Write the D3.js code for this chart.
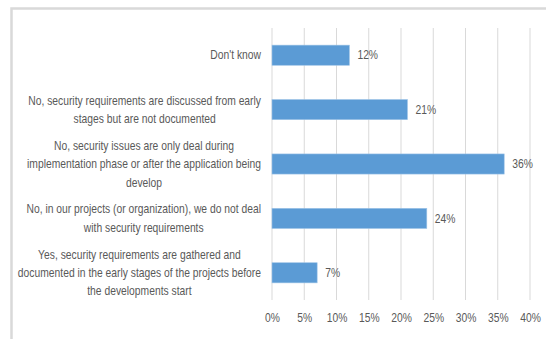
<!DOCTYPE html>
<html>
<head>
<meta charset="utf-8">
<script src="https://cdn.jsdelivr.net/npm/d3@7"></script>
<style>
  body { margin: 0; background: #fff; }
  text { font-family: "Liberation Sans", Arial, sans-serif; fill: #595959; font-size: 12px; }
</style>
</head>
<body>
<div id="chart"></div>
<script>
// chart data
const categories = [
  ["Don't know"],
  ["No, security requirements are discussed from early", "stages but are not documented"],
  ["No, security issues are only deal during", "implementation phase or after the application being", "develop"],
  ["No, in our projects (or organization), we do not deal", "with security requirements"],
  ["Yes, security requirements are gathered and", "documented in the early stages of the projects before", "the developments start"]
];
const values = [12, 21, 36, 24, 7];
const xTicks = [0, 5, 10, 15, 20, 25, 30, 35, 40];

const W = 546, H = 339;
const plot = {left: 272, right: 530, top: 28, bottom: 300};
const squeeze = 0.86; // horizontal condensing to mimic a narrow font

const svg = d3.select("#chart").append("svg")
  .attr("width", W)
  .attr("height", H);

// outer frame (only left and top edges visible)
svg.append("rect")
  .attr("x", 11.5).attr("y", 8.5)
  .attr("width", 560).attr("height", 360)
  .attr("fill", "none")
  .attr("stroke", "#d9d9d9")
  .attr("stroke-width", 2.5);

const xScale = d3.scaleLinear()
  .domain([0, 40])
  .range([plot.left, plot.right]);

const yScale = d3.scaleBand()
  .domain(d3.range(categories.length))
  .range([plot.top, plot.bottom])
  .paddingInner(0.63)
  .paddingOuter(0.315);

// vertical grid
svg.append("g")
  .selectAll("line")
  .data(xTicks)
  .join("line")
    .attr("x1", d => xScale(d)).attr("x2", d => xScale(d))
    .attr("y1", plot.top).attr("y2", plot.bottom)
    .attr("stroke", "#d9d9d9")
    .attr("stroke-width", 1);

// x axis labels
svg.append("g")
  .attr("transform", `translate(0, ${plot.bottom})`)
  .call(d3.axisBottom(xScale).tickValues(xTicks).tickSize(0).tickPadding(18).tickFormat(d => d + "%"))
  .call(g => g.select(".domain").remove())
  .call(g => g.selectAll("text")
    .attr("fill", "#595959")
    .attr("dy", "0.35em")
    .attr("transform", `scale(${squeeze},1)`)
    .style("font-size", "12px")
    .style("font-family", null));

// bars
svg.append("g")
  .selectAll("rect")
  .data(values)
  .join("rect")
    .attr("x", xScale(0))
    .attr("y", (d, i) => yScale(i))
    .attr("width", d => xScale(d) - xScale(0))
    .attr("height", yScale.bandwidth())
    .attr("fill", "#5b9bd5")
    .attr("stroke", "#9dc3e6")
    .attr("stroke-width", 0.6);

// value labels
svg.append("g")
  .selectAll("text")
  .data(values)
  .join("text")
    .attr("transform", (d, i) => `translate(${xScale(d) + 8},${yScale(i) + yScale.bandwidth() / 2}) scale(${squeeze},1)`)
    .attr("dy", "0.35em")
    .text(d => d + "%");

// category labels, centered as blocks right-aligned to the axis
const lineH = 18.5;
const labelRight = 261;
categories.forEach((lines, i) => {
  const cy = yScale(i) + yScale.bandwidth() / 2;
  const g = svg.append("g")
    .attr("transform", `translate(${labelRight},${cy}) scale(${squeeze},1)`);
  const texts = lines.map((t, j) => g.append("text")
    .attr("y", (j - (lines.length - 1) / 2) * lineH)
    .attr("dy", "0.35em")
    .attr("text-anchor", "middle")
    .text(t));
  const maxW = d3.max(texts, t => t.node().getComputedTextLength());
  texts.forEach(t => t.attr("x", -maxW / 2));
});
</script>
</body>
</html>
